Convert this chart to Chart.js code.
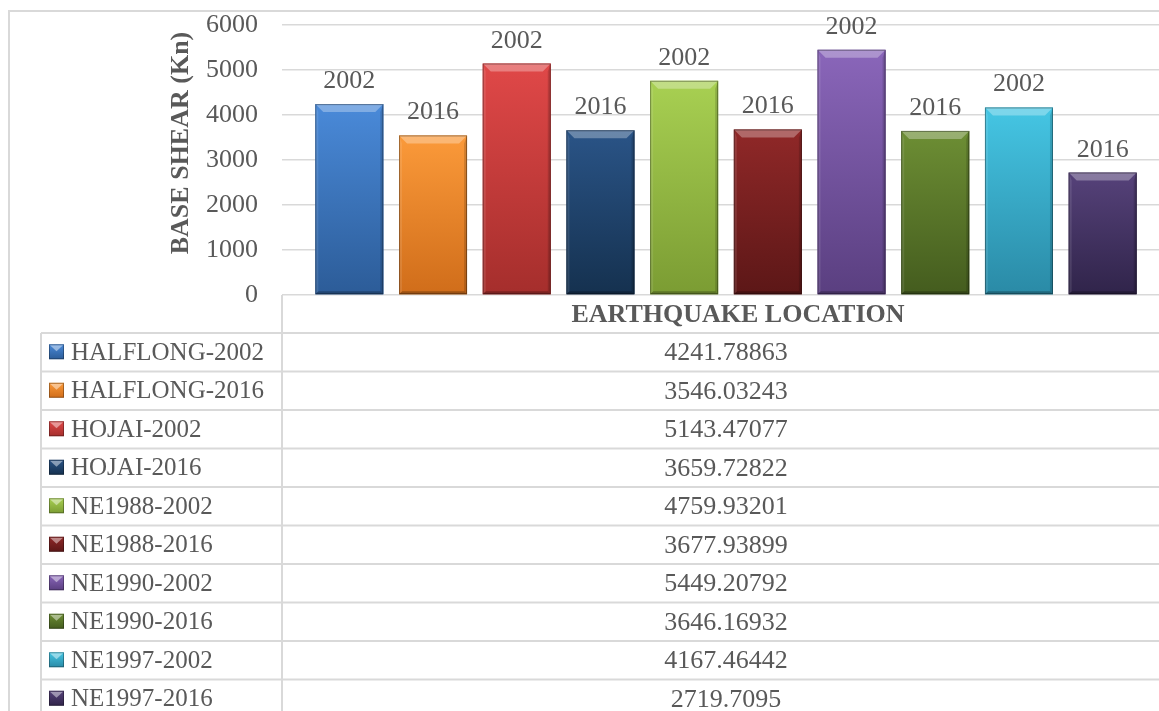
<!DOCTYPE html>
<html>
<head>
<meta charset="utf-8">
<script src="https://cdn.jsdelivr.net/npm/chart.js@4"></script>
<style>
  html, body { margin: 0; padding: 0; background: #fff; overflow: hidden; }
  canvas { position: absolute; left: 0; top: 0; }
</style>
</head>
<body>
<canvas id="baseShear" width="1181" height="711"></canvas>
<script>
// data
const categories = ['EARTHQUAKE LOCATION'];
const seriesNames = ['HALFLONG-2002', 'HALFLONG-2016', 'HOJAI-2002', 'HOJAI-2016', 'NE1988-2002',
                     'NE1988-2016', 'NE1990-2002', 'NE1990-2016', 'NE1997-2002', 'NE1997-2016'];
const baseShear = [4241.78863, 3546.03243, 5143.47077, 3659.72822, 4759.93201,
                   3677.93899, 5449.20792, 3646.16932, 4167.46442, 2719.7095];
const barLabels = ['2002', '2016', '2002', '2016', '2002', '2016', '2002', '2016', '2002', '2016'];
const yMin = 0, yMax = 6000, yStep = 1000;
const yTitle = 'BASE SHEAR (Kn)';

// styles
const barMid   = ['#3b78c4', '#f28a2a', '#cf3c3b', '#21446f', '#98c044', '#7e2222', '#7a57a6', '#5f7c2c', '#38b3d2', '#483665'];
const barLight = ['#4a8ad9', '#fb9a3a', '#e04848', '#2a5487', '#a8d052', '#902828', '#8a66ba', '#6d8e34', '#45c6e4', '#56427a'];
const barDark  = ['#2c5c98', '#d06d1a', '#a52e2c', '#15314f', '#7b9c33', '#5c1717', '#5a3f80', '#445c1e', '#2a8aa6', '#30244a'];

const FONT = "'Liberation Serif', 'Times New Roman', serif";
const TEXT = '#595959';
const LINE = '#d9d9d9';

const rowTop = 333, rowH = 38.5, tableLeft = 41;

const excelLook = {
    id: 'excelLook',
    beforeDraw(chart) {
        const ctx = chart.ctx;
        ctx.save();
        ctx.strokeStyle = LINE;
        ctx.lineWidth = 2;
        ctx.strokeRect(9, 11, chart.width + 20, chart.height + 20);
        // y axis title
        ctx.translate(181, 143);
        ctx.rotate(-Math.PI / 2);
        ctx.fillStyle = TEXT;
        ctx.font = 'bold 26px ' + FONT;
        ctx.textAlign = 'center';
        ctx.textBaseline = 'middle';
        ctx.fillText(yTitle, 0, 0);
        ctx.restore();
    },
    afterDatasetsDraw(chart) {
        const ctx = chart.ctx;
        ctx.save();
        chart.data.datasets.forEach((ds, i) => {
            const el = chart.getDatasetMeta(i).data[0];
            const p = el.getProps(['x', 'y', 'base', 'width'], true);
            const l = p.x - p.width / 2, r = p.x + p.width / 2, t = p.y, b = p.base;
            const g = ctx.createLinearGradient(0, t, 0, b);
            g.addColorStop(0, barLight[i]);
            g.addColorStop(1, barDark[i]);
            ctx.fillStyle = g;
            ctx.fillRect(l, t, r - l, b - t);
            const bv = 8;
            const poly = (pts, col) => {
                ctx.beginPath();
                ctx.moveTo(pts[0][0], pts[0][1]);
                pts.slice(1).forEach(q => ctx.lineTo(q[0], q[1]));
                ctx.closePath();
                ctx.fillStyle = col;
                ctx.fill();
            };
            poly([[l, t], [r, t], [r - bv, t + bv], [l + bv, t + bv]], 'rgba(255,255,255,0.30)');
            poly([[l, t], [l + 3, t + bv], [l + 3, b - 3], [l, b]], 'rgba(255,255,255,0.10)');
            poly([[r, t], [r - 3, t + bv], [r - 3, b - 3], [r, b]], 'rgba(0,0,0,0.15)');
            poly([[l, b], [l + 3, b - 3], [r - 3, b - 3], [r, b]], 'rgba(0,0,0,0.25)');
            ctx.strokeStyle = 'rgba(0,0,0,0.35)';
            ctx.lineWidth = 1;
            ctx.strokeRect(l + 0.5, t + 0.5, r - l - 1, b - t - 1);
            // data label
            ctx.fillStyle = TEXT;
            ctx.font = '26px ' + FONT;
            ctx.textAlign = 'center';
            ctx.textBaseline = 'alphabetic';
            ctx.fillText(barLabels[i], p.x, t - 16);
        });
        ctx.restore();
    },
    afterDraw(chart) {
        const ctx = chart.ctx;
        const a = chart.chartArea;
        const cx = (a.left + a.right) / 2;
        ctx.save();
        ctx.strokeStyle = LINE;
        ctx.lineWidth = 2;
        ctx.beginPath();
        ctx.moveTo(a.left, a.bottom);
        ctx.lineTo(a.left, chart.height);
        ctx.moveTo(tableLeft, rowTop);
        ctx.lineTo(tableLeft, chart.height);
        for (let i = 0; i <= seriesNames.length; i++) {
            const y = rowTop + rowH * i;
            ctx.moveTo(tableLeft, y);
            ctx.lineTo(chart.width, y);
        }
        ctx.stroke();

        ctx.fillStyle = TEXT;
        ctx.textBaseline = 'middle';
        ctx.textAlign = 'center';
        ctx.font = 'bold 26px ' + FONT;
        ctx.fillText(categories[0], cx + 12, (a.bottom + rowTop) / 2 + 1);

        seriesNames.forEach((name, i) => {
            const yc = rowTop + rowH * i + rowH / 2;
            // legend key
            const kx = 49, ky = yc - 8, ks = 15;
            const g = ctx.createLinearGradient(0, ky, 0, ky + ks);
            g.addColorStop(0, barLight[i]);
            g.addColorStop(1, barDark[i]);
            ctx.fillStyle = g;
            ctx.fillRect(kx, ky, ks, ks);
            ctx.beginPath();
            ctx.moveTo(kx + 1, ky + 1);
            ctx.lineTo(kx + ks - 1, ky + 1);
            ctx.lineTo(kx + ks / 2, ky + 7);
            ctx.closePath();
            ctx.fillStyle = 'rgba(255,255,255,0.45)';
            ctx.fill();
            ctx.strokeStyle = 'rgba(0,0,0,0.3)';
            ctx.lineWidth = 1;
            ctx.strokeRect(kx + 0.5, ky + 0.5, ks - 1, ks - 1);

            ctx.fillStyle = TEXT;
            ctx.font = '25px ' + FONT;
            ctx.textAlign = 'left';
            ctx.fillText(name, 71, yc + 1);
            ctx.font = '26px ' + FONT;
            ctx.textAlign = 'center';
            ctx.fillText(String(baseShear[i]), cx, yc + 1);
        });
        ctx.restore();
    }
};

const ctx = document.getElementById('baseShear').getContext('2d');
const baseShearChart = new Chart(ctx, {
    type: 'bar',
    data: {
        labels: categories,
        datasets: seriesNames.map((name, i) => ({
            label: name,
            data: [baseShear[i]],
            backgroundColor: barMid[i],
            borderWidth: 0
        }))
    },
    options: {
        responsive: false,
        animation: false,
        events: [],
        categoryPercentage: 0.9426,
        barPercentage: 0.8125,
        layout: { padding: { left: 0, top: 25, right: 11, bottom: 416 } },
        plugins: { legend: { display: false }, tooltip: { enabled: false } },
        scales: {
            x: { display: false },
            y: {
                min: yMin,
                max: yMax,
                afterFit(scale) { scale.width = 282; },
                border: { display: false },
                grid: { color: LINE, lineWidth: 1.5, drawTicks: true, tickLength: 24, tickColor: 'rgba(0,0,0,0)' },
                ticks: {
                    stepSize: yStep,
                    padding: 0,
                    color: TEXT,
                    font: { family: FONT, size: 26 },
                    callback: v => String(v)
                }
            }
        }
    },
    plugins: [excelLook]
});
</script>
</body>
</html>
